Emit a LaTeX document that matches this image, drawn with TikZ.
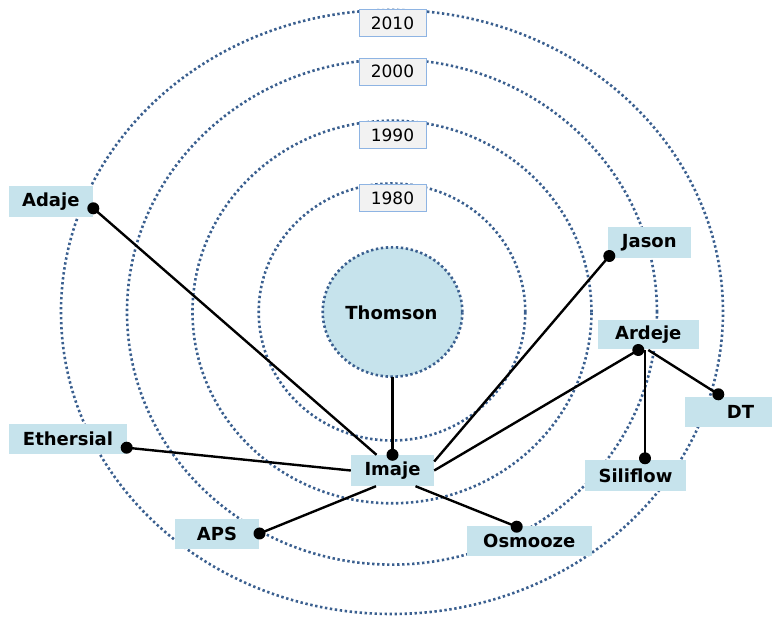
\documentclass[tikz,border=0pt]{standalone}
\usepackage{fontspec}
\setmainfont{DejaVu Sans}
\usetikzlibrary{calc}
\definecolor{ringblue}{HTML}{3A5F8F}
\definecolor{boxfill}{HTML}{C6E3EC}
\definecolor{yearfill}{HTML}{F2F2F2}
\definecolor{yearline}{HTML}{8EB4E3}
\tikzset{
  ring/.style={draw=ringblue, line width=2.6pt, dash pattern=on 2.4pt off 2.6pt},
  org/.style={fill=boxfill, inner sep=0pt, font=\fontsize{18}{20}\selectfont\bfseries},
  yearbox/.style={draw=yearline, fill=yearfill, line width=1pt, inner sep=0pt, minimum width=67pt, minimum height=27pt, font=\fontsize{17}{19}\selectfont},
  link/.style={line width=2.4pt, black},
  dotmark/.style={fill=black}
}
\begin{document}
\begin{tikzpicture}[x=1pt,y=-1pt]
\useasboundingbox (0,0) rectangle (772,617);
% rings
\draw[ring] (392,312) ellipse [x radius=331pt, y radius=302pt];
\draw[ring] (392,312) ellipse [x radius=265pt, y radius=252.6pt];
\draw[ring] (392,312) ellipse [x radius=199.5pt, y radius=191.3pt];
\draw[ring] (392,312) ellipse [x radius=133.3pt, y radius=128.5pt];
% year labels
\node[yearbox] (y2010) at (392.5,23.4) {2010};
\node[yearbox] (y2000) at (392.5,71.7) {2000};
\node[yearbox] (y1990) at (392.5,135) {1990};
\node[yearbox] (y1980) at (392.5,198.3) {1980};
% centre
\fill[boxfill] (392.5,312) ellipse [x radius=69.8pt, y radius=64.7pt];
\draw[ring] (392.5,312) ellipse [x radius=69.8pt, y radius=64.7pt];
\node[font=\fontsize{18}{20}\selectfont\bfseries] (thomson) at (391.5,313) {Thomson};
\coordinate (thomsonbottom) at (392.5,376.7);
% organisations
\node[org, minimum width=83pt, minimum height=31pt] (imaje) at (392.5,470.5) {Imaje};
\node[org, minimum width=84pt, minimum height=30.5pt] (adaje) at (50.8,201.3) {Adaje};
\node[org, minimum width=82.7pt, minimum height=30.7pt] (jason) at (649.3,242.4) {Jason};
\node[org, minimum width=100.7pt, minimum height=29pt] (ardeje) at (648.3,334.5) {Ardeje};
\node[org, minimum width=87pt, minimum height=30pt] (dt) at (728.5,412) {\hspace*{24pt}DT};
\node[org, minimum width=101pt, minimum height=30.7pt] (siliflow) at (635.5,475.3) {Siliflow};
\node[org, minimum width=118pt, minimum height=29.7pt] (ethersial) at (68,438.8) {Ethersial};
\node[org, minimum width=84pt, minimum height=29.7pt] (aps) at (217,533.8) {APS};
\node[org, minimum width=124.7pt, minimum height=30pt] (osmooze) at (529.3,541) {Osmooze};
% dot positions
\coordinate (adajedot) at (93.3,208.3);
\coordinate (jasondot) at (609.3,256);
\coordinate (ardejedot) at (638.3,350);
\coordinate (dtdot) at (718.3,394.3);
\coordinate (siliflowdot) at (645,458.3);
\coordinate (ethersialdot) at (126.7,447.7);
\coordinate (apsdot) at (259.5,533.5);
\coordinate (osmoozedot) at (516.7,526.7);
% connectors
\draw[link] (thomsonbottom) -- (imaje.north);
\draw[link] (adajedot) -- ([xshift=-16pt]imaje.north);
\draw[link] (jasondot) -- ([yshift=9pt]imaje.east);
\draw[link] (ardejedot) -- (imaje.east);
\draw[link] (ethersialdot) -- (imaje.west);
\draw[link] (apsdot) -- ([xshift=-16.5pt]imaje.south);
\draw[link] (osmoozedot) -- ([xshift=23pt]imaje.south);
\draw[link] (ardejedot -| siliflowdot) -- (siliflowdot);
\draw[link] ([xshift=10pt]ardejedot) -- (dtdot);
% dots
\foreach \p in {imaje.north,adajedot,jasondot,ardejedot,dtdot,siliflowdot,ethersialdot,apsdot,osmoozedot}
  \fill[dotmark] (\p) circle (6pt);
\end{tikzpicture}
\end{document}
